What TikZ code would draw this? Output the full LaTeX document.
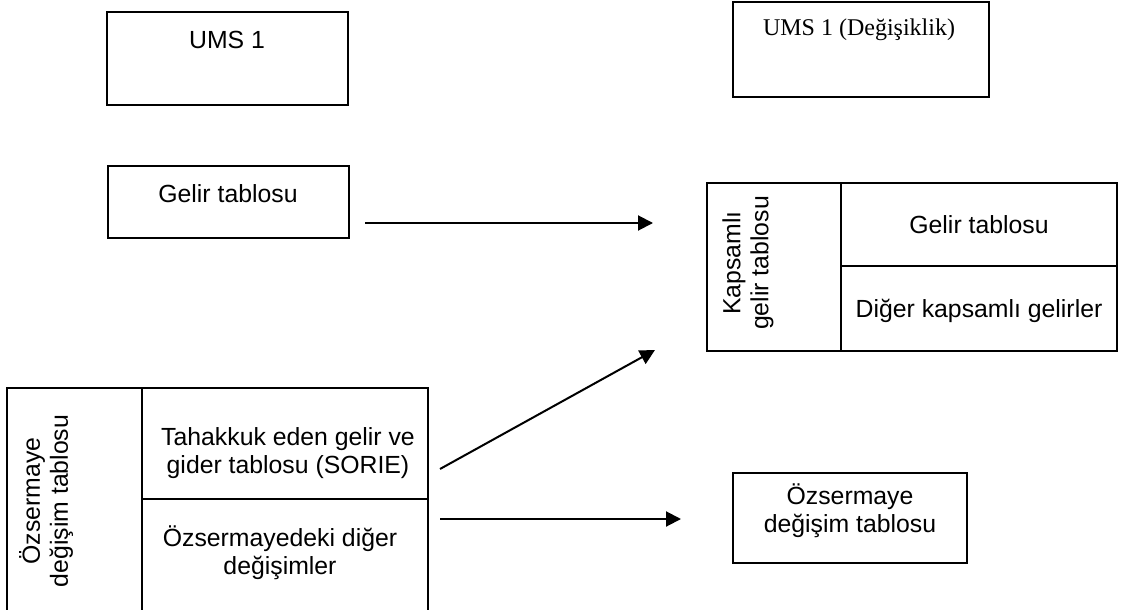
\documentclass[tikz,border=0pt]{standalone}
\usepackage{fontspec}
\setmainfont{Liberation Sans}
\newfontfamily\serifyazi{Liberation Serif}
\usetikzlibrary{arrows.meta, positioning}

\begin{document}
\begin{tikzpicture}[
    x=0.5pt, y=-0.5pt,
    box/.style={draw, rectangle, line width=1pt, inner sep=0pt},
    yazi/.style={align=center, inner sep=0pt, font=\fontsize{12.4}{14}\selectfont},
    arrow/.style={-{Triangle[length=7.5pt, width=7.5pt]}, line width=1pt}
]
\useasboundingbox (0,0) rectangle (1127,609);

% Top boxes
\node[box, minimum width=120.5pt, minimum height=46.5pt] (ums) at (227.5,58.5) {};
\node[yazi] (umsyazi) at (227,40) {UMS 1};
\node[box, minimum width=128pt, minimum height=47.5pt] (umsdeg) at (861,49.5) {};
\node[yazi, font=\serifyazi\fontsize{12}{14}\selectfont] (umsdegyazi) at (859,30) {UMS 1 (Değişiklik)};

% Gelir tablosu
\node[box, minimum width=120.5pt, minimum height=36pt] (gelir) at (228.5,202) {};
\node[yazi] (gelirya) at (228,194) {Gelir tablosu};

% Kapsamli gelir tablosu
\node[box, minimum width=205pt, minimum height=84pt] (kap) at (912,267) {};
\draw[line width=1pt] (841,183) -- (841,351);
\draw[line width=1pt] (841,266) -- (1117,266);
\node[yazi, rotate=90] (kapyan) at (748,263) {Kapsamlı\\gelir tablosu};
\node[yazi] (kapgelir) at (979,225) {Gelir tablosu};
\node[yazi] (kapdiger) at (979,311) {Diğer kapsamlı gelirler};

% Ozsermaye degisim tablosu (eski)
\node[box, minimum width=210.5pt, minimum height=117pt] (ozeski) at (217.5,505) {};
\draw[line width=1pt] (142,388) -- (142,622);
\draw[line width=1pt] (142,499) -- (428,499);
\node[yazi, rotate=90] (ozyan) at (46,501) {Özsermaye\\değişim tablosu};
\node[yazi] (sorie) at (288,453) {Tahakkuk eden gelir ve\\gider tablosu (SORIE)};
\node[yazi] (digerdeg) at (280,553) {Özsermayedeki diğer\\değişimler};

% Ozsermaye degisim tablosu (yeni)
\node[box, minimum width=117pt, minimum height=45pt] (ozyeni) at (850,518) {};
\node[yazi] (ozyeniya) at (850,511) {Özsermaye\\değişim tablosu};

% Arrows
\coordinate (o1a) at (365,223);
\coordinate (o1b) at (653,223);
\coordinate (o2a) at (440,469);
\coordinate (o2b) at (655,350);
\coordinate (o3a) at (440,519);
\coordinate (o3b) at (681,519);
\draw[arrow] (o1a) -- (o1b);
\draw[arrow] (o2a) -- (o2b);
\draw[arrow] (o3a) -- (o3b);
\end{tikzpicture}
\end{document}
